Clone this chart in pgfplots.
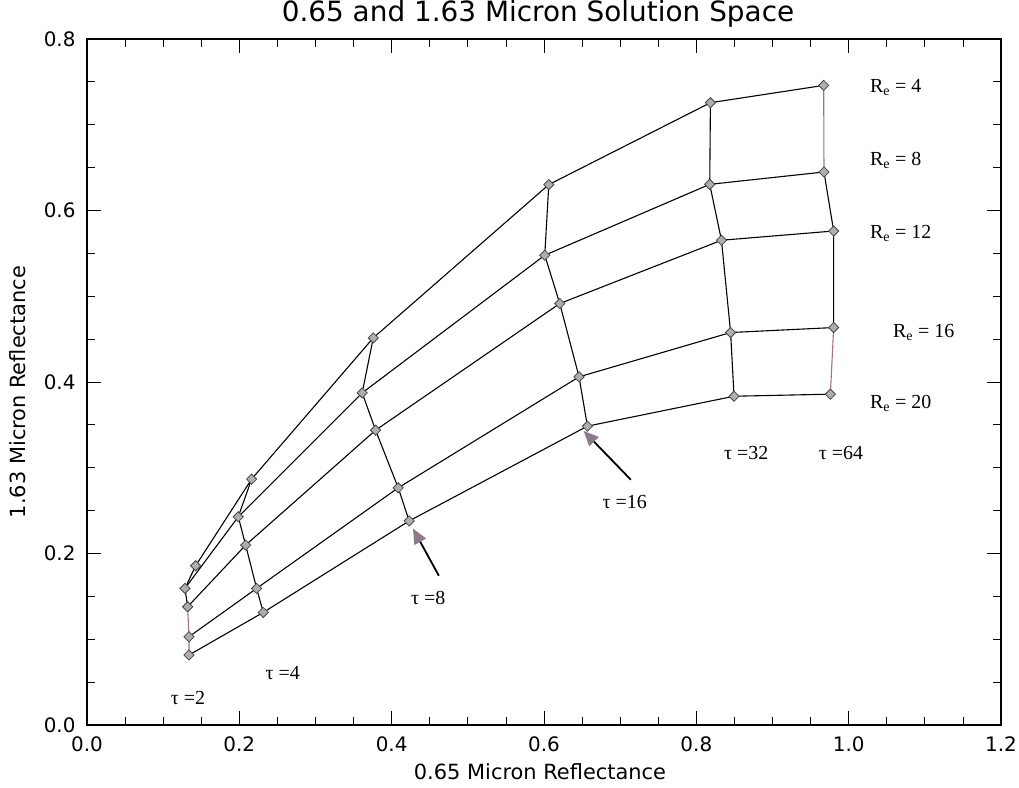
\documentclass[border=0pt]{standalone}
\usepackage{fontspec}
\setmainfont{DejaVu Sans}
\newfontfamily\timesfont{Liberation Serif}
\usepackage{pgfplots}
\usepackage{pgfplotstable}
\pgfplotsset{compat=1.18}
\usetikzlibrary{arrows.meta}

\definecolor{markfill}{RGB}{178,172,178}
\definecolor{markedge}{RGB}{70,70,70}
\definecolor{arrowfill}{RGB}{140,122,138}
\definecolor{pinkline}{RGB}{165,115,125}

% Reflectance grid: effective radius re, optical depth tau,
% 0.65 micron reflectance x, 1.63 micron reflectance y
\pgfplotstableread{
re tau x y
4 2 0.1426 0.1857
4 4 0.2161 0.2867
4 8 0.3758 0.4514
4 16 0.6063 0.6302
4 32 0.8185 0.7257
4 64 0.9672 0.7459
8 2 0.1286 0.1593
8 4 0.1986 0.2428
8 8 0.3613 0.3873
8 16 0.6010 0.5478
8 32 0.8176 0.6305
8 64 0.9676 0.6449
12 2 0.1321 0.1379
12 4 0.2083 0.2098
12 8 0.3789 0.3438
12 16 0.6207 0.4915
12 32 0.8330 0.5653
12 64 0.9803 0.5761
16 2 0.1339 0.1029
16 4 0.2227 0.1593
16 8 0.4086 0.2766
16 16 0.6460 0.4060
16 32 0.8450 0.4577
16 64 0.9803 0.4635
20 2 0.1339 0.0816
20 4 0.2314 0.1313
20 8 0.4230 0.2380
20 16 0.6570 0.3485
20 32 0.8495 0.3834
20 64 0.9760 0.3858
}\grid

% same grid ordered by optical depth, then radius: key = 100*tau + re
\pgfplotstablecreatecol[expr={100*\thisrow{tau}+\thisrow{re}}]{key}{\grid}
\pgfplotstablesort[sort key=key, sort cmp=float <]{\bytau}{\grid}

% a segment of constant tau between two radii (bounds on key)
\newcommand{\tauseg}[3]{%
  \addplot[#1, line width=1.1bp, no markers,
    restrict expr to domain={\thisrow{key}}{#2:#3}]
    table[x=x, y=y] {\bytau};}
% a line of constant effective radius
\newcommand{\reline}[1]{%
  \addplot[black, line width=1.1bp, mark=square*, mark size=3.6bp,
    mark options={solid, rotate=45, fill=markfill, draw=markedge, line width=0.8bp},
    restrict expr to domain={\thisrow{re}}{#1:#1}]
    table[x=x, y=y] {\grid};}

\begin{document}
\begin{tikzpicture}
\path[use as bounding box] (0,0) rectangle (1019bp,788bp);
\begin{axis}[
  at={(87bp,63bp)}, anchor=south west,
  scale only axis, width=914bp, height=686bp,
  xmin=0, xmax=1.2, ymin=0, ymax=0.8,
  xtick={0,0.2,0.4,0.6,0.8,1.0,1.2},
  ytick={0,0.2,0.4,0.6,0.8},
  minor x tick num=3, minor y tick num=3,
  tick align=inside,
  major tick length=14bp, minor tick length=8bp,
  every tick/.style={black, line width=0.8bp},
  axis line style={line width=1.2bp},
  /pgf/number format/assume math mode=true,
  xticklabel style={yshift=-8bp, /pgf/number format/.cd, fixed, fixed zerofill, precision=1},
  yticklabel style={xshift=-8bp, /pgf/number format/.cd, fixed, fixed zerofill, precision=1},
  ticklabel style={font=\fontsize{20}{24}\selectfont},
  title={0.65 and 1.63 Micron Solution Space},
  title style={font=\fontsize{28}{32}\selectfont,
    at={(axis description cs:0.5,1)}, yshift=19bp, xshift=-6bp, anchor=center},
  xlabel={0.65 Micron Reflectance},
  ylabel={1.63 Micron Reflectance},
  every axis x label/.style={font=\fontsize{21}{25}\selectfont,
    at={(axis description cs:0.5,0)}, yshift=-47bp, xshift=-4bp, anchor=center},
  every axis y label/.style={font=\fontsize{21}{25}\selectfont,
    at={(axis description cs:0,0.5)}, xshift=-69bp, yshift=-10bp,
    rotate=90, anchor=center},
  clip=false,
]
% constant optical depth
\tauseg{black}{203.5}{212.5}
\tauseg{pinkline}{211.5}{220.5}
\tauseg{black}{403.5}{420.5}
\tauseg{black}{803.5}{820.5}
\tauseg{black}{1603.5}{1620.5}
\tauseg{black}{3203.5}{3220.5}
\tauseg{pinkline}{6403.5}{6408.5}
\tauseg{black}{6407.5}{6416.5}
\tauseg{pinkline}{6415.5}{6420.5}
% constant effective radius
\reline{4}
\reline{8}
\reline{12}
\reline{16}
\reline{20}

\begin{scope}[font=\timesfont\fontsize{20}{24}\selectfont]
\node[anchor=west] at (axis cs:1.0236,0.7436) {R\textsubscript{e} = 4};
\node[anchor=west] at (axis cs:1.0236,0.6585) {R\textsubscript{e} = 8};
\node[anchor=west] at (axis cs:1.0236,0.5734) {R\textsubscript{e} = 12};
\node[anchor=west] at (axis cs:1.0538,0.4580) {R\textsubscript{e} = 16};
\node[anchor=west] at (axis cs:1.0236,0.3753) {R\textsubscript{e} = 20};
\node at (axis cs:0.1325,0.0315) {τ =2};
\node at (axis cs:0.257,0.0606) {τ =4};
\node at (axis cs:0.448,0.148) {τ =8};
\node at (axis cs:0.706,0.260) {τ =16};
\node at (axis cs:0.8655,0.317) {τ =32};
\node at (axis cs:0.990,0.317) {τ =64};
\end{scope}

\draw[line width=1.8bp, -{Triangle[length=15bp, width=13bp, fill=arrowfill, color=arrowfill]}]
  (axis cs:0.462,0.174) -- (axis cs:0.428,0.229);
\draw[line width=1.8bp, -{Triangle[length=15bp, width=13bp, fill=arrowfill, color=arrowfill]}]
  (axis cs:0.714,0.286) -- (axis cs:0.652,0.343);
\end{axis}
\end{tikzpicture}
\end{document}
